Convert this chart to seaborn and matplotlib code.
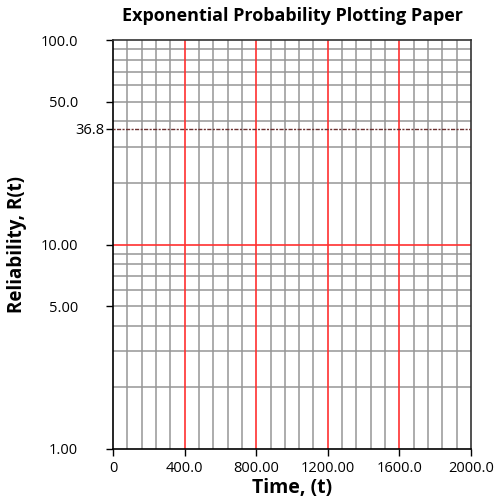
import numpy as np
import matplotlib
matplotlib.use('Agg')
import matplotlib.pyplot as plt
import seaborn as sns

# eixos do papel de probabilidade
tempo_grade = [80 * i for i in range(1, 25)]
tempo_vermelho = [400, 800, 1200, 1600]
tempo_ticks = [0, 400, 800, 1200, 1600, 2000]
tempo_rotulos = ['0', '400.0', '800.00', '1200.00', '1600.0', '2000.0']

conf_grade = [2, 3, 4, 5, 6, 7, 8, 9, 20, 30, 40, 50, 60, 70, 80, 90]
conf_vermelho = [10]
conf_ticks = [1, 5, 10, 36.8, 50, 100]
conf_rotulos = ['1.00', '5.00', '10.00', '36.8', '50.0', '100.0']
linha_media = 36.8

sns.set_theme(style="white")
plt.rcParams['font.family'] = ['Open Sans', 'DejaVu Sans']
plt.rcParams['text.color'] = 'black'

fig = plt.figure(figsize=(5, 5), dpi=100)
ax = fig.add_axes([0.226, 0.102, 0.716, 0.818])

ax.set_yscale('log')
ax.set_xlim(0, 2000)
ax.set_ylim(1, 100)

for x in tempo_grade:
    if x not in tempo_vermelho:
        ax.axvline(x, color='#969696', lw=1.1, zorder=1)
for y in conf_grade:
    ax.axhline(y, color='#969696', lw=1.1, zorder=1)
for x in tempo_vermelho:
    ax.axvline(x, color='#ff3030', lw=1.2, zorder=2)
for y in conf_vermelho:
    ax.axhline(y, color='#ff3030', lw=1.2, zorder=2)

ax.axhline(linha_media, color='#6b3030', lw=1.0, ls=(0, (1.5, 1.0, 3, 1.0)), zorder=3)

ax.set_xticks(tempo_ticks)
ax.set_xticklabels(tempo_rotulos)
ax.set_yticks(conf_ticks)
ax.set_yticklabels(conf_rotulos)
ax.yaxis.set_minor_locator(matplotlib.ticker.NullLocator())
ax.tick_params(axis='both', which='major', direction='out', length=5, width=1,
               color='black', labelsize=10.5, labelcolor='black',
               bottom=True, left=True)
ax.tick_params(axis='x', pad=4)
ax.tick_params(axis='y', pad=20)
# o rotulo 36.8 fica mais perto do eixo
ax.yaxis.get_major_ticks()[3].set_pad(1.5)

for lado in ['left', 'bottom', 'top', 'right']:
    ax.spines[lado].set_color('#333333')
    ax.spines[lado].set_linewidth(1.2)
ax.spines['left'].set_color('black')
ax.spines['bottom'].set_color('black')

ax.set_xlabel('Time, (t)', fontsize=14, fontweight='bold', color='black')
ax.xaxis.set_label_coords(0.5, -0.072)
ax.set_ylabel('Reliability, R(t)', fontsize=13.5, fontweight='bold', color='black')
ax.yaxis.set_label_coords(-0.24, 0.5)
ax.set_title('Exponential Probability Plotting Paper', fontsize=13,
             fontweight='bold', pad=14, color='black')

fig.savefig('out.png', dpi=100, facecolor='white')
